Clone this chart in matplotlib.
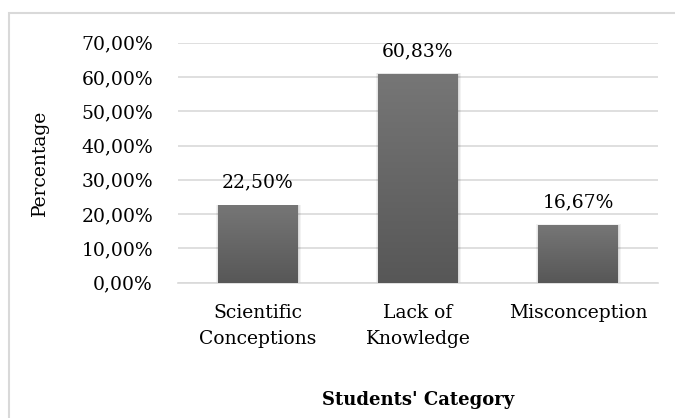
import numpy as np
import matplotlib
matplotlib.use("Agg")
from matplotlib import pyplot as plt
from matplotlib.patches import Rectangle

categories = ["Scientific\nConceptions", "Lack of\nKnowledge", "Misconception"]
values = [22.50, 60.83, 16.67]
yticks = [0, 10, 20, 30, 40, 50, 60, 70]

plt.rcParams['font.family'] = ['DejaVu Serif']
FS = 13.5

fig = plt.figure(figsize=(6.75, 4.18), dpi=100)
ax = fig.add_axes([0.2637, 0.3237, 0.7111, 0.5743])

# outer chart frame
fig.patches.append(Rectangle((9/675, -0.1), 1.2, 1 - 13/418 + 0.1, transform=fig.transFigure,
                             fill=False, edgecolor='#d9d9d9', linewidth=1.5))

x = np.arange(len(categories))
bars = ax.bar(x, values, width=0.5, color='#636363', zorder=3)

# vertical gradient + soft shadow on each bar
grad = np.linspace(0, 1, 100).reshape(-1, 1)
cmap = matplotlib.colors.LinearSegmentedColormap.from_list('g', ['#575757', '#767676'])
for b in bars:
    x0, w, h = b.get_x(), b.get_width(), b.get_height()
    for k in range(1, 4):
        ax.bar(x0 + w/2 + 0.004, h + 0.1*k, width=w + 0.01*k, color='#000000', alpha=0.05, zorder=2)
    ax.imshow(grad, extent=[x0, x0 + w, 0, h], origin='lower', cmap=cmap,
              aspect='auto', zorder=4)

for xi, v in zip(x, values):
    ax.annotate(f"{v:.2f}%".replace('.', ','), (xi, v), xytext=(0, 10),
                textcoords='offset points', ha='center', va='bottom', fontsize=FS)

ax.set_xlim(-0.5, 2.5)
ax.set_ylim(0, 70)
ax.set_yticks(yticks)
ax.set_yticklabels([f"{t:.2f}%".replace('.', ',') for t in yticks], fontsize=FS)
ax.set_xticks(x)
ax.set_xticklabels(categories, fontsize=FS, linespacing=1.6)
ax.tick_params(axis='y', length=0, pad=18)
ax.tick_params(axis='x', length=0, pad=15)
ax.grid(axis='y', color='#d9d9d9', linewidth=1.2, zorder=0)
for s in ['top', 'right', 'left']:
    ax.spines[s].set_visible(False)
ax.spines['bottom'].set_color('#d9d9d9')
ax.spines['bottom'].set_linewidth(1.2)

fig.text(40/675, 1 - 163/418, "Percentage", rotation=90, ha='center', va='center', fontsize=FS)
fig.text(418/675, 1 - 400/418, "Students' Category", ha='center', va='center',
         fontsize=13, fontweight='bold')

fig.savefig("out.png", dpi=100)
